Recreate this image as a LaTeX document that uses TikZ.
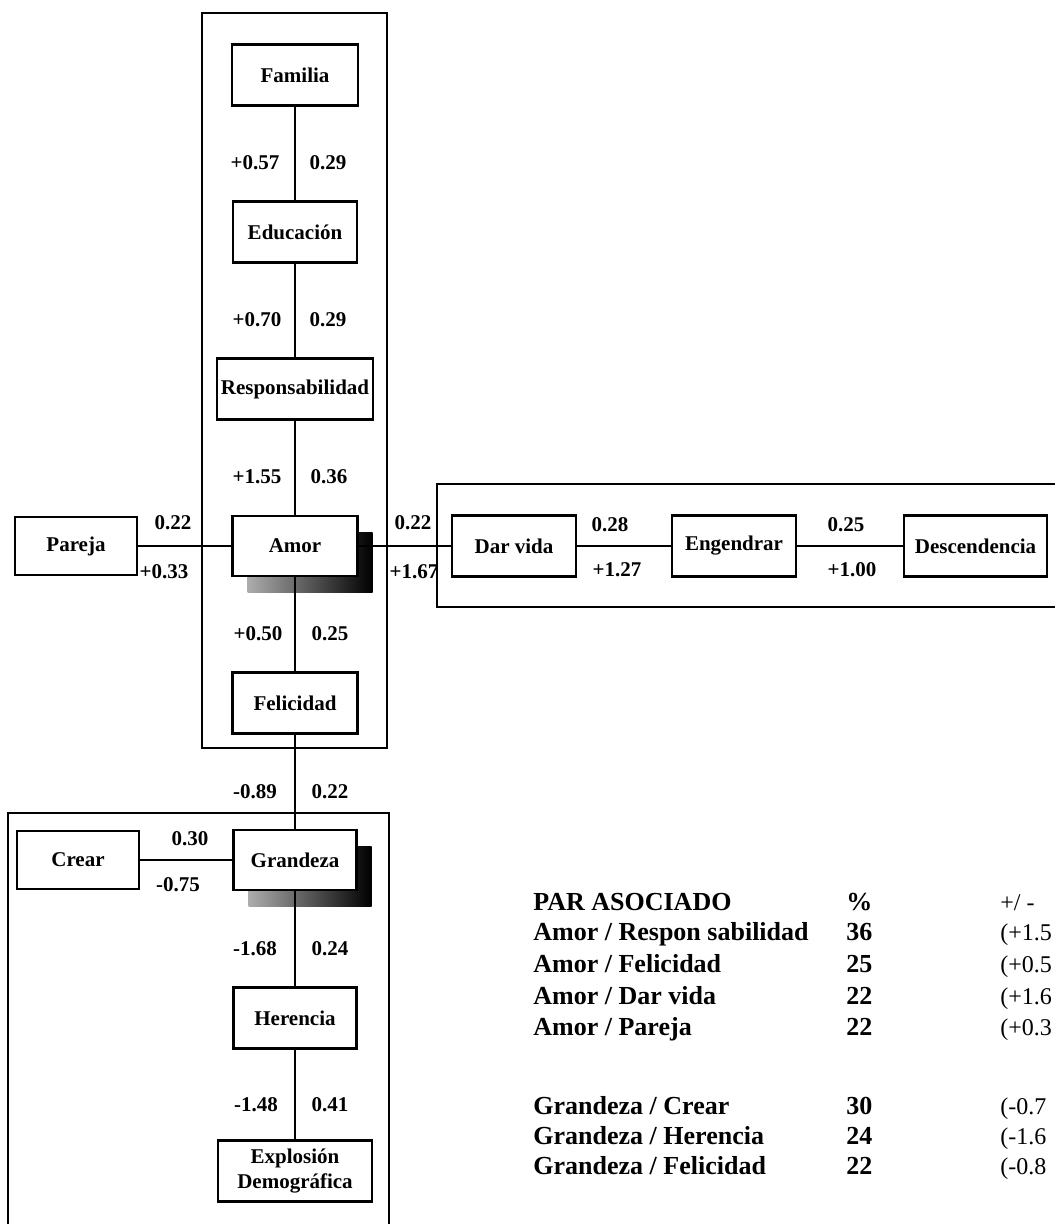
\documentclass[tikz,border=0pt]{standalone}
\usepackage{fontspec}
\setmainfont{Liberation Serif}
\usetikzlibrary{shadows}

\tikzset{
  box/.style={draw, line width=1.3pt, fill=white, inner sep=0pt, minimum height=30.5pt,
    align=center, font=\fontsize{10.5}{12.5}\bfseries\selectfont},
  wire/.style={line width=1.2pt},
  frame/.style={line width=1.4pt},
  lbl/.style={inner sep=0pt, font=\fontsize{10.5}{12.5}\bfseries\selectfont},
  tabtxt/.style={anchor=base west, inner sep=0pt, font=\fontsize{13}{15}\bfseries\selectfont},
  tabval/.style={anchor=base west, inner sep=0pt, font=\fontsize{12}{15}\selectfont},
  sombra/.style={general shadow={shadow xshift=7.5pt, shadow yshift=-8pt,
    left color=gray!65, right color=black}}
}

\begin{document}
\begin{tikzpicture}[x=0.5pt, y=-0.5pt]
  \useasboundingbox (0,0) rectangle (1055,1224);

  % group frames
  \draw[frame] (202,13) rectangle (387,748);
  \draw[frame] (1055,484) -- (437,484) -- (437,607) -- (1055,607);
  \draw[frame] (8,1224) -- (8,813) -- (389,813) -- (389,1224);

  % vertical chain
  \node[box, minimum width=63pt] (familia) at (295,75) {Familia};
  \node[box, minimum width=62pt] (educacion) at (295,232) {Educación};
  \node[box, minimum width=78pt] (respons) at (295,389) {Responsabilidad};
  \node[box, minimum width=62.5pt, minimum height=30pt, sombra] (amor) at (295,546) {Amor};
  \node[box, minimum width=62.5pt] (felicidad) at (295,703) {Felicidad};
  \node[box, minimum width=61.5pt, minimum height=30pt, sombra] (grandeza) at (295,860) {Grandeza};
  \node[box, minimum width=61.5pt] (herencia) at (295,1018) {Herencia};
  \node[box, minimum width=77pt] (explosion) at (295,1171) {Explosión\\Demográfica};

  % side boxes
  \node[box, minimum width=61pt, minimum height=29pt] (pareja) at (76,546) {Pareja};
  \node[box, minimum width=62pt] (darvida) at (514,546) {Dar vida};
  \node[box, minimum width=62pt] (engendrar) at (734,546) {Engendrar};
  \node[box, minimum width=71.5pt] (descend) at (975.5,546) {Descendencia};
  \node[box, minimum width=61pt, minimum height=29pt] (crear) at (78,860) {Crear};

  % links
  \draw[wire] (familia) -- (educacion);
  \draw[wire] (educacion) -- (respons);
  \draw[wire] (respons) -- (amor);
  \draw[wire] (amor) -- (felicidad);
  \draw[wire] (felicidad) -- (grandeza);
  \draw[wire] (grandeza) -- (herencia);
  \draw[wire] (herencia) -- (explosion);
  \draw[wire] (pareja) -- (amor);
  \draw[wire] (amor) -- (darvida);
  \draw[wire] (darvida) -- (engendrar);
  \draw[wire] (engendrar) -- (descend);
  \draw[wire] (crear) -- (grandeza);

  % values on the links
  \node[lbl] (fe1) at (255,163) {+0.57};
  \node[lbl] (fe2) at (328,163) {0.29};
  \node[lbl] (er1) at (257,320) {+0.70};
  \node[lbl] (er2) at (328,320) {0.29};
  \node[lbl] (ra1) at (257,477) {+1.55};
  \node[lbl] (ra2) at (329,477) {0.36};
  \node[lbl] (af1) at (258,634) {+0.50};
  \node[lbl] (af2) at (330,634) {0.25};
  \node[lbl] (fg1) at (255,792) {-0.89};
  \node[lbl] (fg2) at (330,792) {0.22};
  \node[lbl] (gh1) at (255,949) {-1.68};
  \node[lbl] (gh2) at (330,949) {0.24};
  \node[lbl] (he1) at (256,1105) {-1.48};
  \node[lbl] (he2) at (330,1105) {0.41};
  \node[lbl] (pa1) at (173,523) {0.22};
  \node[lbl] (pa2) at (164,572) {+0.33};
  \node[lbl] (ad1) at (413,523) {0.22};
  \node[lbl] (ad2) at (414,572) {+1.67};
  \node[lbl] (de1) at (610,525) {0.28};
  \node[lbl] (de2) at (617,570) {+1.27};
  \node[lbl] (ed1) at (846,525) {0.25};
  \node[lbl] (ed2) at (852,570) {+1.00};
  \node[lbl] (cg1) at (190,839) {0.30};
  \node[lbl] (cg2) at (178,885) {-0.75};

  % table of associated pairs
  \node[tabtxt] (th1) at (533,910) {PAR ASOCIADO};
  \node[tabtxt] (th2) at (846,910) {\%};
  \node[tabval] (th3) at (1000,910) {+/ -};
  \foreach \yy/\pa/\pc/\df [count=\i] in {
      940/{Amor / Respon sabilidad}/36/{(+1.5},
      972/{Amor / Felicidad}/25/{(+0.5},
      1004/{Amor / Dar vida}/22/{(+1.6},
      1035/{Amor / Pareja}/22/{(+0.3},
      1114/{Grandeza / Crear}/30/{(-0.7},
      1144/{Grandeza / Herencia}/24/{(-1.6},
      1174/{Grandeza / Felicidad}/22/{(-0.8}}
  {
    \node[tabtxt] (pa\i) at (533,\yy) {\pa};
    \node[tabtxt] (pc\i) at (846,\yy) {\pc};
    \node[tabval] (df\i) at (1000,\yy) {\df};
  }
\end{tikzpicture}
\end{document}
